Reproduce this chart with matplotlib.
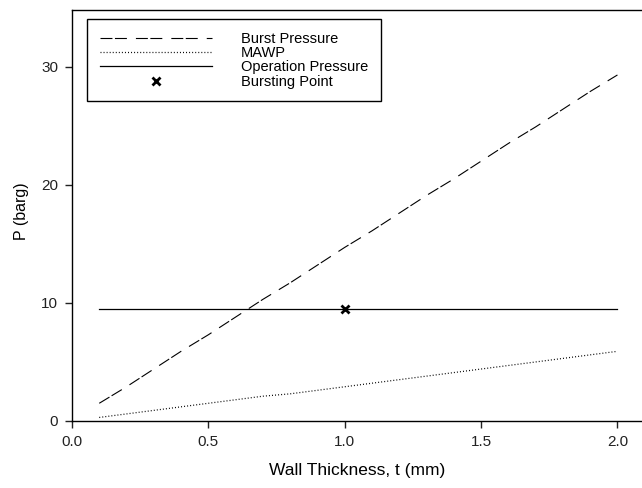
import matplotlib
matplotlib.use("Agg")
import matplotlib.pyplot as plt
from matplotlib.lines import Line2D

plt.rcParams["font.family"] = ["Liberation Sans", "DejaVu Sans"]
plt.rcParams["lines.scale_dashes"] = False

# wall thickness (mm)
thickness = [0.1, 0.2, 0.3, 0.4, 0.5, 0.6, 0.7, 0.8, 0.9, 1.0,
             1.1, 1.2, 1.3, 1.4, 1.5, 1.6, 1.7, 1.8, 1.9, 2.0]
# pressures (barg)
burst_pressure = [1.5, 2.9, 4.4, 5.9, 7.3, 8.8, 10.3, 11.7, 13.2, 14.7,
                  16.1, 17.6, 19.1, 20.5, 22.0, 23.5, 24.9, 26.4, 27.9, 29.3]
mawp = [0.3, 0.6, 0.9, 1.2, 1.5, 1.8, 2.1, 2.3, 2.6, 2.9,
        3.2, 3.5, 3.8, 4.1, 4.4, 4.7, 5.0, 5.3, 5.6, 5.9]
operation_pressure = [9.5] * len(thickness)
burst_point_t = [1.0]
burst_point_p = [9.5]

fig = plt.figure(figsize=(6.42, 4.88), dpi=100)
ax = fig.add_axes([0.1121, 0.1373, 0.8879, 0.8422])

dash = (0, (8.6, 1.8, 8.6, 6.5))
dots = (0, (0.7, 1.5))
ax.plot(thickness, burst_pressure, color="black", lw=0.8, linestyle=dash)
ax.plot(thickness, mawp, color="black", lw=0.9, linestyle=dots)
ax.plot(thickness, operation_pressure, color="black", lw=0.9)
ax.plot(burst_point_t, burst_point_p, linestyle="none", marker="x",
        color="black", markersize=5.5, markeredgewidth=2)

ax.set_xlim(0, 2.09)
ax.set_ylim(0, 34.8)
ax.set_xticks([0.0, 0.5, 1.0, 1.5, 2.0])
ax.set_xticklabels(["0.0", "0.5", "1.0", "1.5", "2.0"])
ax.set_yticks([0, 10, 20, 30])
ax.spines["right"].set_visible(False)
for s in ("left", "bottom", "top"):
    ax.spines[s].set_linewidth(1.0)
ax.tick_params(direction="out", length=5, width=1, labelsize=11,
               colors="#222222", pad=5, top=False)

ax.set_xlabel("Wall Thickness, t (mm)", fontsize=12.5, labelpad=10)
ax.set_ylabel("P (barg)", fontsize=11.5)
ax.yaxis.set_label_coords(-0.075, 0.51)

handles = [
    Line2D([], [], color="black", lw=0.8, linestyle=dash),
    Line2D([], [], color="black", lw=0.9, linestyle=dots),
    Line2D([], [], color="black", lw=0.9),
    Line2D([], [], linestyle="none", marker="x", color="black",
           markersize=5.5, markeredgewidth=2),
]
labels = ["Burst Pressure", "MAWP", "Operation Pressure", "Bursting Point"]
leg = ax.legend(handles, labels, loc="upper left", bbox_to_anchor=(0.027, 0.977),
                borderaxespad=0, fontsize=10.5, handlelength=7.7,
                handletextpad=2.0, labelspacing=0.02, borderpad=0.85,
                fancybox=False, frameon=True, edgecolor="black", framealpha=1)
leg.get_frame().set_linewidth(1.0)

fig.savefig("out.png", dpi=100)
